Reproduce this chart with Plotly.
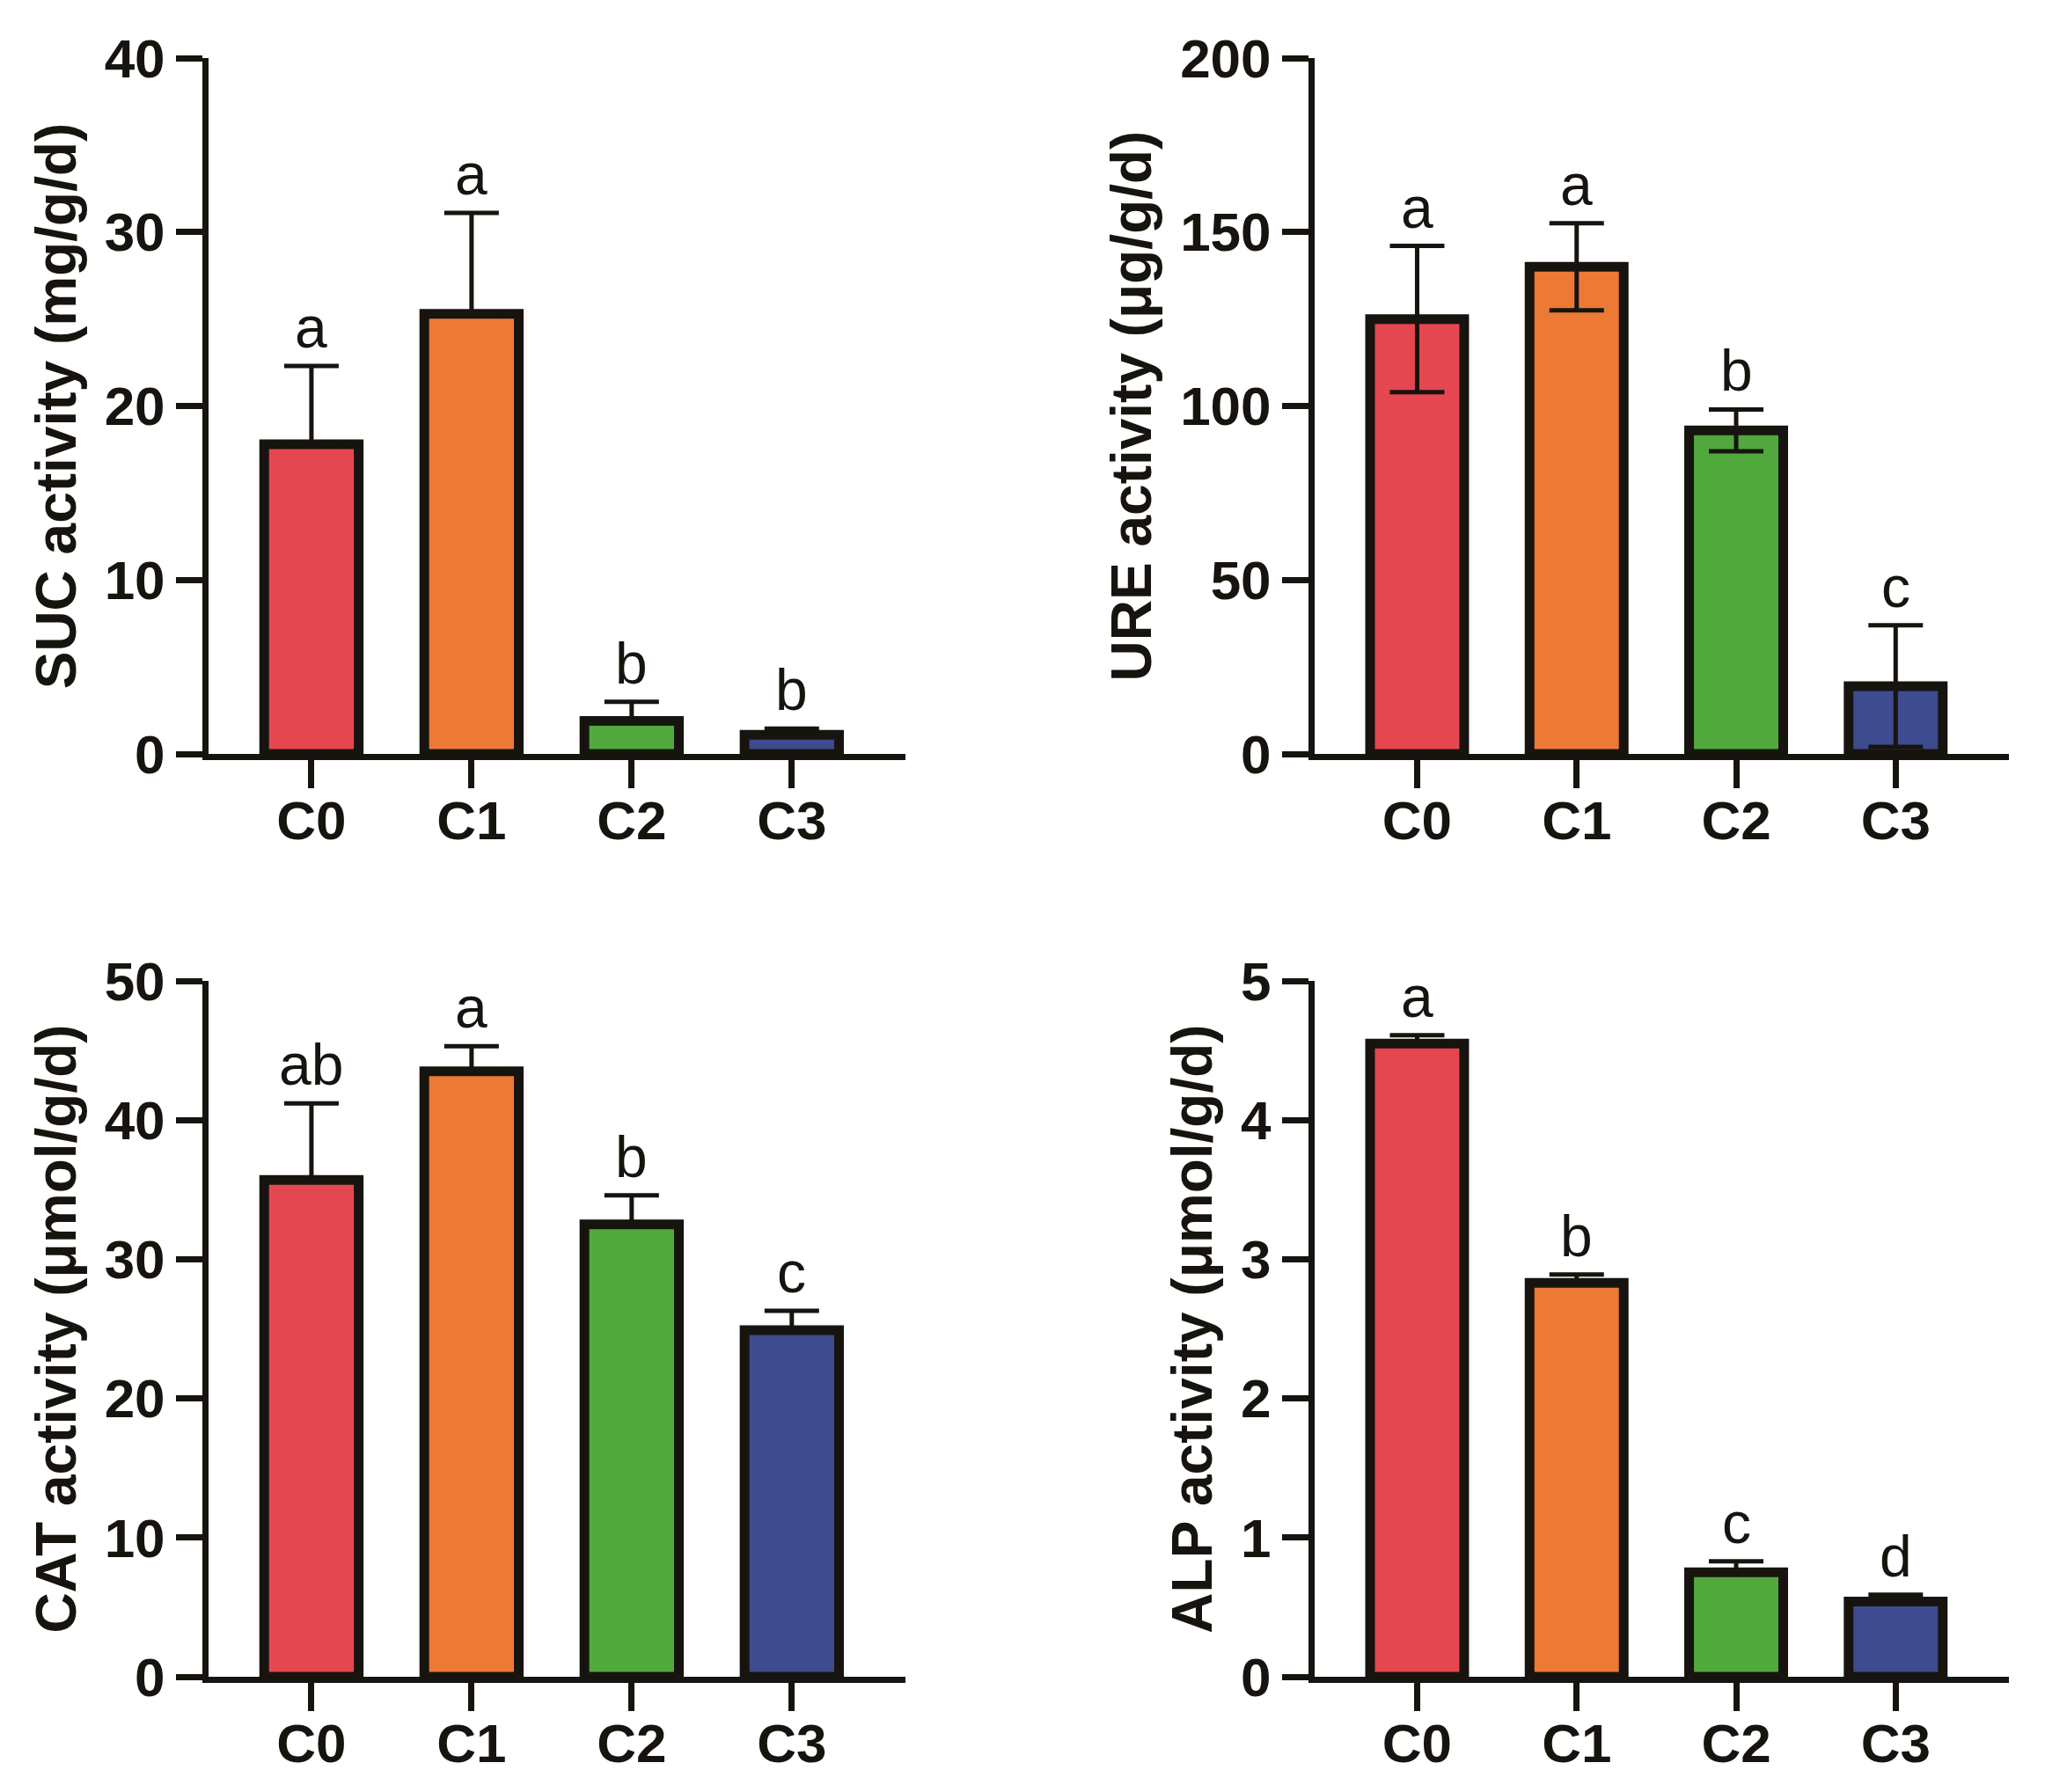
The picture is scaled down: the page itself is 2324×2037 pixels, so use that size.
import plotly.graph_objects as go

# ---------------- data ----------------
categories = ["C0", "C1", "C2", "C3"]

suc_mean = [17.8, 25.3, 1.9, 1.1]
suc_err = [4.5, 5.8, 1.1, 0.35]
suc_letters = ["a", "a", "b", "b"]

ure_mean = [125.0, 140.0, 93.0, 19.5]
ure_err = [21.0, 12.5, 6.0, 17.5]
ure_letters = ["a", "a", "b", "c"]

cat_mean = [35.7, 43.5, 32.5, 24.9]
cat_err = [5.5, 1.8, 2.1, 1.4]
cat_letters = ["ab", "a", "b", "c"]

alp_mean = [4.55, 2.83, 0.75, 0.54]
alp_err = [0.06, 0.06, 0.08, 0.05]
alp_letters = ["a", "b", "c", "d"]

y_titles = ["SUC activity (mg/g/d)", "URE activity (μg/g/d)",
            "CAT activity (μmol/g/d)", "ALP activity (μmol/g/d)"]
y_ranges = [[0, 40], [0, 200], [0, 50], [0, 5]]
y_dticks = [10, 50, 10, 1]

# ---------------- style ----------------
bar_colors = ["#E54750", "#ED7936", "#51A93D", "#3E4B8E"]
ink = "#17140F"
FONT = "Liberation Sans, Arial, Helvetica, sans-serif"
W, H = 2324, 2037
OFFX, OFFY = 8, 6   # page offset of the figure
SHIFT = 5           # move y-axis line right (px) while keeping categories put
CAT_PX = 182.0      # pixels per category


def xd(a, b):
    return [(a + SHIFT - OFFX) / W, (b - OFFX) / W]


def yd(top, bottom):
    return [1 - (bottom - OFFY) / H, 1 - (top - OFFY) / H]


x_domains = [xd(232, 1029), xd(1489, 2283), xd(232, 1029), xd(1489, 2283)]
y_domains = [yd(64, 855), yd(64, 855), yd(1113, 1904), yd(1113, 1904)]
x_range = [-0.67 + SHIFT / CAT_PX, 3.71]

panels = [
    (suc_mean, suc_err, suc_letters, False),
    (ure_mean, ure_err, ure_letters, True),
    (cat_mean, cat_err, cat_letters, False),
    (alp_mean, alp_err, alp_letters, False),
]

fig = go.Figure()
annotations = []
layout_axes = {}

for i, (mean, err, letters, symmetric) in enumerate(panels):
    n = i + 1
    xa = "x" if n == 1 else f"x{n}"
    ya = "y" if n == 1 else f"y{n}"
    if symmetric:
        ey = dict(type="data", array=err, symmetric=True,
                  thickness=5, width=31, color=ink)
    else:
        ey = dict(type="data", array=err, arrayminus=[0] * len(err),
                  symmetric=False, thickness=5, width=31, color=ink)
    fig.add_trace(go.Bar(
        x=categories, y=mean, width=0.59,
        marker=dict(color=bar_colors, line=dict(color=ink, width=11)),
        error_y=ey, xaxis=xa, yaxis=ya, showlegend=False,
    ))
    for c, m, e, t in zip(categories, mean, err, letters):
        annotations.append(dict(
            x=c, y=m + e, xref=xa, yref=ya, text=t, showarrow=False,
            yanchor="bottom", yshift=5,
            font=dict(family=FONT, size=66, color=ink),
        ))
    xkey = "xaxis" if n == 1 else f"xaxis{n}"
    ykey = "yaxis" if n == 1 else f"yaxis{n}"
    layout_axes[xkey] = dict(
        domain=x_domains[i], anchor=ya, type="category",
        categoryorder="array", categoryarray=categories,
        range=x_range, showline=True, linewidth=7, linecolor=ink,
        ticks="outside", ticklen=32, tickwidth=7, tickcolor=ink,
        ticklabelstandoff=-16,
        showgrid=False, zeroline=False, automargin=False,
        tickfont=dict(family=FONT, size=62, color=ink, weight="bold"),
    )
    layout_axes[ykey] = dict(
        domain=y_domains[i], anchor=xa, range=y_ranges[i],
        dtick=y_dticks[i], tick0=0,
        showline=True, linewidth=7, linecolor=ink,
        ticks="outside", ticklen=30, tickwidth=7, tickcolor=ink,
        showgrid=False, zeroline=False, automargin=False,
        tickfont=dict(family=FONT, size=62, color=ink, weight="bold"),
        title=dict(text=y_titles[i], standoff=14,
                   font=dict(family=FONT, size=64, color=ink, weight="bold")),
    )

fig.update_layout(
    template="none",
    width=W, height=H,
    margin=dict(l=0, r=0, t=0, b=0, pad=0, autoexpand=False),
    paper_bgcolor="white", plot_bgcolor="white",
    annotations=annotations,
    **layout_axes,
)

fig.write_html("out.html")
